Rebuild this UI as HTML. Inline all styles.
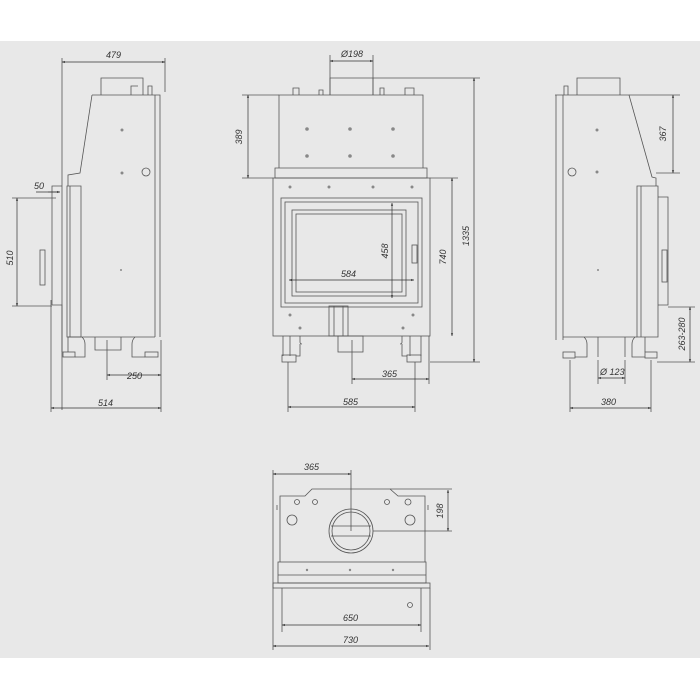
<!DOCTYPE html>
<html><head><style>html,body{margin:0;padding:0;background:#fff}svg{display:block}text{font-family:"Liberation Sans",sans-serif;font-size:9px;font-style:italic;fill:#333}</style></head>
<body>
<svg width="700" height="700" viewBox="0 0 700 700" xmlns="http://www.w3.org/2000/svg">
<defs><marker id="a" viewBox="0 0 10 10" refX="10" refY="5" markerWidth="5" markerHeight="4" orient="auto-start-reverse"><path d="M0,1L10,5L0,9z" fill="#333"/></marker></defs>
<rect x="0" y="41" width="700" height="617" fill="#e8e8e8"/>
<g fill="none" stroke="#555" stroke-width="0.8">
<!-- LEFT VIEW -->
<path d="M101,95V78H143V95M131,95V86H138M148,95V86H152V95"/>
<path d="M92,95H160V337M155,95V337M92,95L80,173L68,175V186"/>
<path d="M67,186H81V337H67Z M70,186V337"/>
<path d="M52,305V186H62M52,305H62V337"/>
<rect x="40" y="250" width="5" height="35"/>
<path d="M62,337V352 M68,337V352 M68,337H155 M82,337Q85,340 85,344V357H75 M135,337Q132,340 132,344V357H145"/>
<path d="M95,337V350H121V337"/>
<rect x="63" y="352" width="12" height="5"/><rect x="145" y="352" width="13" height="5"/>
<circle cx="146" cy="172" r="4"/>
<path d="M62,58V410 M165,58V92 M51,300V412 M161,340V412 M107,340V380 M12,198H56 M12,306H52 M48,192H58"/>
<!-- CENTER VIEW -->
<path d="M279,95H423V168H279Z M275,168H427V178H275Z"/>
<path d="M330,95V78H373V95 M293,95V88H299V95 M319,95V90H323V95 M380,95V88H384V95 M405,95V88H414V95"/>
<rect x="273" y="178" width="157" height="158"/>
<rect x="281" y="198" width="141" height="109"/><rect x="285" y="202" width="133" height="101"/>
<rect x="292" y="210" width="114" height="86"/><rect x="296" y="214" width="106" height="78"/>
<rect x="329" y="306" width="19" height="30"/><path d="M334,306V336 M343,306V336"/>
<rect x="338" y="336" width="25" height="16"/>
<path d="M283,336V356 M290,336V356 M410,336V356 M421,336V356 M300,336V342Q300,344 302,344 M402,336V342Q402,344 400,344 M296,356H300V344 M407,356H402V344"/>
<rect x="282" y="355" width="14" height="7"/><rect x="407" y="355" width="14" height="7"/>
<rect x="412" y="245" width="5" height="18"/>
<path d="M330,55V95 M373,55V95 M242,95H279 M242,178H273 M430,178H458 M373,78H480 M430,362H480 M288,362V412 M415,362V412 M352,340V384 M429,336V384"/>
<!-- RIGHT VIEW -->
<path d="M577,95V78H620V95 M564,95V86H568V95"/>
<path d="M555,95H629L652,177L656,178V186 M556,95V340 M563,95V340"/>
<path d="M637,186H658V337H637Z M641,186V337"/>
<path d="M658,197H668V305H658"/><rect x="662" y="250" width="5" height="32"/>
<path d="M563,337H637 M584,337Q587,340 587,344V357H575 M635,337Q632,340 632,344V357H645 M598,337V357 M625,337V357 M645,337V352"/>
<rect x="563" y="352" width="12" height="6"/><rect x="645" y="352" width="12" height="6"/>
<circle cx="572" cy="172" r="4"/>
<path d="M629,95H680 M656,173H680 M668,307H695 M657,362H695 M570,360V412 M651,360V412 M598,360V384 M625,360V384"/>
<!-- BOTTOM VIEW -->
<path d="M280,562V496H305L312,489H390L398,496H425V562"/>
<path d="M277,505V510 M428,505V510"/>
<rect x="278" y="562" width="148" height="21"/><path d="M278,575H426"/>
<rect x="273" y="583" width="157" height="5"/>
<path d="M282,588V632 M421,588V632 M273,470V650 M430,588V650 M351,470V531 M390,489H452 M373,531H452"/>
<circle cx="351" cy="531" r="22"/><circle cx="351" cy="531" r="19"/>
<path d="M331,526H371 M331,536H371"/>
<circle cx="297" cy="502" r="2.5"/><circle cx="315" cy="502" r="2.5"/><circle cx="387" cy="502" r="2.5"/><circle cx="408" cy="502" r="3"/>
<circle cx="292" cy="520" r="5"/><circle cx="410" cy="520" r="5"/>
<circle cx="410" cy="605" r="2.5"/>
</g>
<g fill="#888">
<circle cx="122" cy="130" r="1.5"/><circle cx="122" cy="173" r="1.5"/><circle cx="121" cy="270" r="1"/>
<circle cx="307" cy="129" r="1.8"/><circle cx="350" cy="129" r="1.8"/><circle cx="393" cy="129" r="1.8"/>
<circle cx="307" cy="156" r="1.8"/><circle cx="350" cy="156" r="1.8"/><circle cx="393" cy="156" r="1.8"/>
<circle cx="290" cy="187" r="1.5"/><circle cx="329" cy="187" r="1.5"/><circle cx="373" cy="187" r="1.5"/><circle cx="412" cy="187" r="1.5"/>
<circle cx="290" cy="315" r="1.5"/><circle cx="413" cy="315" r="1.5"/><circle cx="300" cy="328" r="1.5"/><circle cx="403" cy="328" r="1.5"/>
<circle cx="597" cy="130" r="1.5"/><circle cx="597" cy="172" r="1.5"/><circle cx="598" cy="270" r="1"/>
<circle cx="307" cy="570" r="1.2"/><circle cx="350" cy="570" r="1.2"/><circle cx="393" cy="570" r="1.2"/>
</g>
<g stroke="#333" stroke-width="0.7" marker-start="url(#a)" marker-end="url(#a)">
<line x1="62" y1="62" x2="165" y2="62"/>
<line x1="17" y1="198" x2="17" y2="306"/>
<line x1="107" y1="375" x2="161" y2="375"/>
<line x1="51" y1="408" x2="161" y2="408"/>
<line x1="330" y1="61" x2="373" y2="61"/>
<line x1="248" y1="95" x2="248" y2="178"/>
<line x1="392" y1="203" x2="392" y2="298"/>
<line x1="289" y1="280" x2="414" y2="280"/>
<line x1="452" y1="178" x2="452" y2="336"/>
<line x1="474" y1="78" x2="474" y2="362"/>
<line x1="352" y1="379" x2="429" y2="379"/>
<line x1="288" y1="407" x2="415" y2="407"/>
<line x1="673" y1="95" x2="673" y2="173"/>
<line x1="690" y1="307" x2="690" y2="362"/>
<line x1="598" y1="378" x2="625" y2="378"/>
<line x1="570" y1="408" x2="651" y2="408"/>
<line x1="273" y1="474" x2="351" y2="474"/>
<line x1="448" y1="490" x2="448" y2="531"/>
<line x1="282" y1="625" x2="421" y2="625"/>
<line x1="273" y1="646" x2="429" y2="646"/>
</g>
<path d="M36,192H60" stroke="#333" stroke-width="0.7" marker-end="url(#a)"/>
<text x="106" y="58">479</text>
<text x="34" y="189">50</text>
<text transform="translate(13,258) rotate(-90)" text-anchor="middle">510</text>
<text x="127" y="379">250</text>
<text x="98" y="406">514</text>
<text x="341" y="57">Ø198</text>
<text transform="translate(242,137) rotate(-90)" text-anchor="middle">389</text>
<text transform="translate(388,251) rotate(-90)" text-anchor="middle">458</text>
<text x="341" y="277">584</text>
<text transform="translate(446,257) rotate(-90)" text-anchor="middle">740</text>
<text transform="translate(469,236) rotate(-90)" text-anchor="middle">1335</text>
<text x="382" y="377">365</text>
<text x="343" y="405">585</text>
<text transform="translate(666,134) rotate(-90)" text-anchor="middle">367</text>
<text transform="translate(685,334) rotate(-90)" text-anchor="middle">263-280</text>
<text x="600" y="375">Ø 123</text>
<text x="601" y="405">380</text>
<text x="304" y="470">365</text>
<text transform="translate(443,511) rotate(-90)" text-anchor="middle">198</text>
<text x="343" y="621">650</text>
<text x="343" y="643">730</text>
</svg>
</body></html>
